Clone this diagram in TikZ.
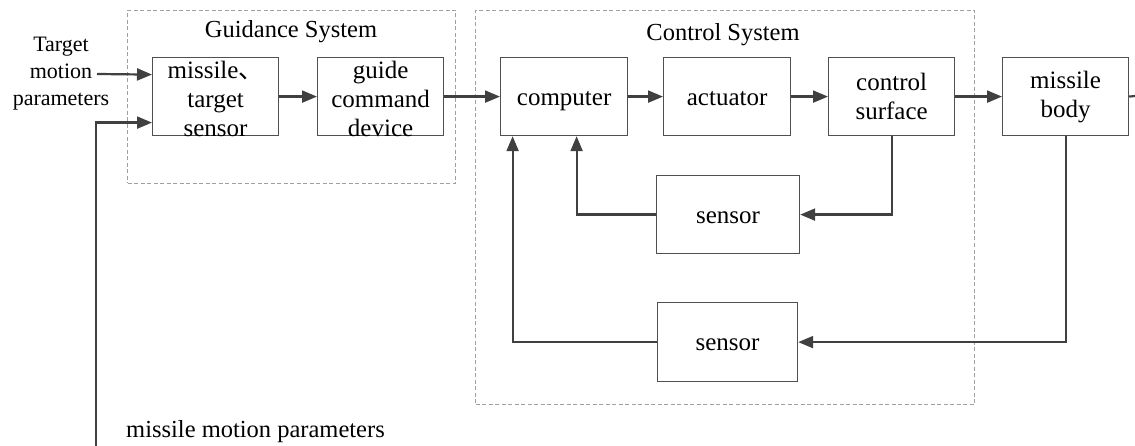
\documentclass[tikz,border=0pt]{standalone}
\usepackage{fontspec}
\setmainfont{Liberation Serif}
\newfontfamily\cjk{Noto Sans CJK SC}
\usetikzlibrary{arrows.meta}
\definecolor{linec}{HTML}{404040}
\definecolor{boxc}{HTML}{505050}
\definecolor{dashc}{HTML}{A0A0A0}
\begin{document}
\begin{tikzpicture}[x=1pt,y=-1pt,
  blk/.style={draw=boxc, line width=1.2pt, minimum width=126pt, minimum height=78pt,
    inner sep=0pt, align=center, anchor=north west, font=\fontsize{25}{29}\selectfont},
  one/.style={text height=17pt, text depth=0pt},
  txt/.style={inner sep=0pt, align=center, font=\fontsize{25}{29}\selectfont},
  dbox/.style={draw=dashc, line width=1pt, dash pattern=on 4pt off 2.5pt, anchor=north west, inner sep=0pt},
  ttl/.style={inner sep=0pt, font=\fontsize{24.5}{29}\selectfont},
  conn/.style={draw=linec, line width=2.2pt, -{Triangle[length=15pt,width=12pt]}},
  wire/.style={draw=linec, line width=2.2pt}]
\useasboundingbox (0,0) rectangle (1135,446);
% dashed groups
\node[dbox, minimum width=328pt, minimum height=173pt] (gsys) at (127,10) {};
\node[dbox, minimum width=499pt, minimum height=394pt] (csys) at (475,10) {};
\node[ttl] (gst) at (291,32) {Guidance System};
\node[ttl] (cst) at (723,35) {Control System};
% blocks
\node[blk] (mts) at (152,57) {};
\node[txt] (mtst) at ([yshift=-2pt]mts.center) {missile{\cjk 、}\\target\\sensor};
\node[blk] (gcd) at (317,57) {};
\node[txt] (gcdt) at ([yshift=-2pt]gcd.center) {guide\\command\\device};
\node[blk, one, minimum width=127pt] (comp) at (500,57) {computer};
\node[blk, one, minimum width=127pt] (act) at (663,57) {actuator};
\node[blk] (cs) at (828,57) {control\\surface};
\node[blk] (mb) at (1002,57) {missile\\body};
\node[blk, one, minimum width=143pt] (s1) at (656,175) {sensor};
\node[blk, one, minimum width=140pt, minimum height=79pt] (s2) at (657,302) {sensor};
% labels
\node[inner sep=0pt, align=center, font=\fontsize{22}{27}\selectfont] (tmp) at (61,74) {Target\\motion\\parameters};
\node[inner sep=0pt, anchor=west, font=\fontsize{24.5}{29}\selectfont] (mmp) at (126,432) {missile motion parameters};
% free ends
\coordinate (tin) at (97,74);
\coordinate (fbb) at (96,446);
\coordinate (rout) at (1135,96);
% connectors
\draw[conn] (tin) -- ([yshift=22pt]mts.west);
\draw[conn] (fbb) |- ([yshift=-26pt]mts.west);
\draw[conn] (mts) -- (gcd);
\draw[conn] (gcd) -- (comp);
\draw[conn] (comp) -- (act);
\draw[conn] (act) -- (cs);
\draw[conn] (cs) -- (mb);
\draw[wire] (mb.east) -- (rout);
\draw[conn] (cs.south) |- (s1.east);
\draw[conn] (s1.west) -| ([xshift=12.5pt]comp.south);
\draw[conn] (mb.south) |- (s2.east);
\draw[conn] (s2.west) -| ([xshift=-51.5pt]comp.south);
\end{tikzpicture}
\end{document}
